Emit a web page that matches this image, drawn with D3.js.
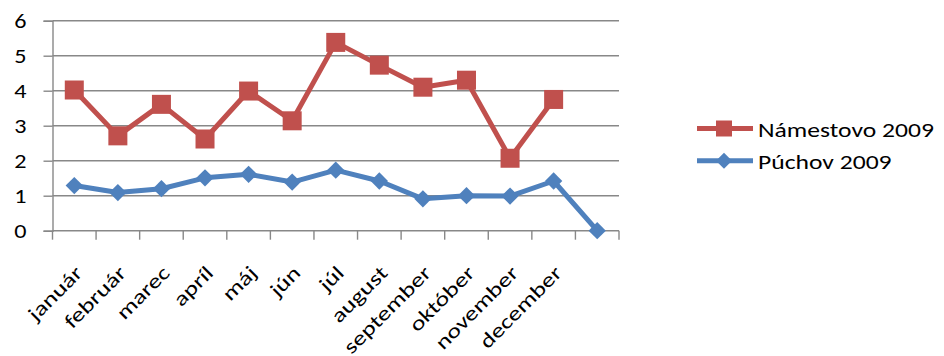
<!DOCTYPE html>
<html>
<head>
<meta charset="utf-8">
<script src="https://cdn.jsdelivr.net/npm/d3@7"></script>
<style>
  body { margin: 0; background: #fff; }
  text { font-family: Carlito, Lato, "Open Sans", sans-serif; fill: #000; }
</style>
</head>
<body>
<div id="chart"></div>
<script>

// categories (the 13th slot has no label)
var months = ["január", "február", "marec", "apríl", "máj", "jún", "júl",
              "august", "september", "október", "november", "december", ""];

var namestovo = [4.02, 2.71, 3.61, 2.62, 3.99, 3.14, 5.38, 4.73, 4.1, 4.3, 2.07, 3.75];
var puchov = [1.29, 1.09, 1.2, 1.51, 1.61, 1.39, 1.73, 1.42, 0.91, 1.0, 0.99, 1.42, 0];

var yTicks = [0, 1, 2, 3, 4, 5, 6];

var seriesNames = ["Námestovo 2009", "Púchov 2009"];
var colors = ["#C0504D", "#4F81BD"];
var axisColor = "#888888";

var W = 944, H = 356;
var margin = {top: 20.7, left: 52.5, right: 325, bottom: 125.3};
var width = W - margin.left - margin.right,
    height = H - margin.top - margin.bottom;

var svg = d3.select("#chart").append("svg")
    .attr("width", W)
    .attr("height", H);

var g = svg.append("g")
    .attr("transform", "translate(" + margin.left + "," + margin.top + ")");

var x = d3.scaleBand()
    .domain(d3.range(months.length))
    .range([0, width]);

var y = d3.scaleLinear()
    .domain([0, 6])
    .range([height, 0]);

// gridlines
g.selectAll(".grid")
    .data(yTicks.slice(1))
    .enter().append("line")
    .attr("x1", 0)
    .attr("x2", width)
    .attr("y1", function(d) { return y(d); })
    .attr("y2", function(d) { return y(d); })
    .attr("stroke", axisColor)
    .attr("stroke-width", 1.4);

// y axis
var yAxis = g.append("g")
    .call(d3.axisLeft(y).tickValues(yTicks).tickFormat(d3.format("d"))
          .tickSize(9).tickPadding(17));
yAxis.select(".domain").attr("stroke", axisColor).attr("stroke-width", 1.4);
yAxis.selectAll(".tick line").attr("stroke", axisColor).attr("stroke-width", 1.4);
yAxis.selectAll("text")
    .attr("font-size", "21px")
    .attr("font-family", null)
    .attr("transform", "scale(1.15,1)")
    .attr("x", -26 / 1.15);

// x axis with ticks at band boundaries
var xAxisG = g.append("g")
    .attr("transform", "translate(0," + height + ")");
xAxisG.append("line")
    .attr("x1", 0).attr("x2", width)
    .attr("stroke", axisColor).attr("stroke-width", 1.4);
xAxisG.selectAll(".xtick")
    .data(d3.range(months.length + 1))
    .enter().append("line")
    .attr("x1", function(i) { return i * x.step(); })
    .attr("x2", function(i) { return i * x.step(); })
    .attr("y1", 0).attr("y2", 9)
    .attr("stroke", axisColor).attr("stroke-width", 1.4);

xAxisG.selectAll(".xlabel")
    .data(months)
    .enter().append("text")
    .attr("text-anchor", "end")
    .attr("font-size", "20px")
    .attr("transform", function(d, i) {
      return "translate(" + (x(i) + x.bandwidth() / 2 + 9.5) + ",43.5) rotate(-45) scale(1.3,1)";
    })
    .text(function(d) { return d; });

var line = d3.line()
    .x(function(d, i) { return x(i) + x.bandwidth() / 2; })
    .y(function(d) { return y(d); });

// Púchov
g.append("path")
    .datum(puchov)
    .attr("fill", "none")
    .attr("stroke", colors[1])
    .attr("stroke-width", 5)
    .attr("stroke-linejoin", "round")
    .attr("d", line);

g.selectAll(".diamond")
    .data(puchov)
    .enter().append("path")
    .attr("d", d3.symbol().type(d3.symbolSquare).size(150))
    .attr("transform", function(d, i) {
      return "translate(" + (x(i) + x.bandwidth() / 2) + "," + y(d) + ") rotate(45)";
    })
    .attr("fill", colors[1]);

// Námestovo
g.append("path")
    .datum(namestovo)
    .attr("fill", "none")
    .attr("stroke", colors[0])
    .attr("stroke-width", 5)
    .attr("stroke-linejoin", "round")
    .attr("d", line);

g.selectAll(".square")
    .data(namestovo)
    .enter().append("rect")
    .attr("x", function(d, i) { return x(i) + x.bandwidth() / 2 - 9.5; })
    .attr("y", function(d) { return y(d) - 9.5; })
    .attr("width", 19)
    .attr("height", 19)
    .attr("fill", colors[0]);

// legend
var legend = svg.append("g")
    .attr("transform", "translate(697,128.5)");

var item = legend.selectAll(".item")
    .data(seriesNames)
    .enter().append("g")
    .attr("transform", function(d, i) { return "translate(0," + (i * 32.3) + ")"; });

item.append("line")
    .attr("x1", 0).attr("x2", 56)
    .attr("stroke", function(d, i) { return colors[i]; })
    .attr("stroke-width", 5);

item.append("path")
    .attr("d", function(d, i) {
      return i === 0 ? d3.symbol().type(d3.symbolSquare).size(256)()
                     : d3.symbol().type(d3.symbolSquare).size(128)();
    })
    .attr("transform", function(d, i) {
      return "translate(27,0)" + (i === 1 ? " rotate(45)" : "");
    })
    .attr("fill", function(d, i) { return colors[i]; });

item.append("text")
    .attr("transform", "translate(61,0) scale(1.22,1)")
    .attr("dy", "0.4em")
    .attr("font-size", "21px")
    .text(function(d) { return d; });

</script>
</body>
</html>
